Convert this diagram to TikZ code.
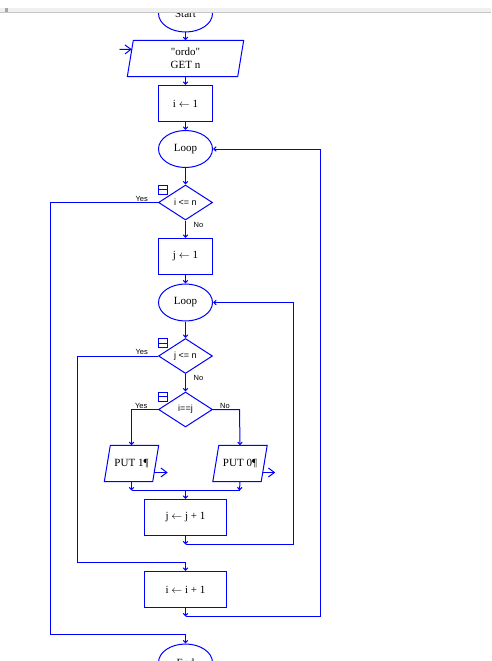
\documentclass[tikz,border=0pt]{standalone}
\usepackage{fontspec}
\setmainfont{Liberation Serif}
\newfontfamily\sansfam{Liberation Sans}
\newfontfamily\plainserif{Liberation Serif}[Ligatures=TeXOff]
\usetikzlibrary{shapes.geometric,arrows.meta,calc}
\definecolor{lineblue}{RGB}{0,0,255}

\begin{document}
\begin{tikzpicture}[x=1pt,y=-1pt,
  flow/.style={draw=lineblue,line width=1pt},
  arr/.style={flow,-{Straight Barb[length=2.5pt,width=4.5pt]}},
  bigarr/.style={flow,-{Straight Barb[length=6pt,width=9pt]}},
  txt/.style={font=\fontsize{11}{13}\selectfont},
  term/.style={ellipse,draw=lineblue,line width=1pt,minimum width=54pt,minimum height=37pt,inner sep=0pt,txt},
  proc/.style={rectangle,draw=lineblue,line width=1pt,minimum height=36pt,inner sep=0pt,txt},
  io/.style={rectangle,minimum height=36pt,inner sep=0pt,align=center,txt},
  cond/.style={diamond,draw=lineblue,line width=1pt,minimum width=54pt,minimum height=35pt,inner sep=0pt,font=\sansfam\fontsize{9}{11}\selectfont},
  lbl/.style={font=\sansfam\fontsize{7.5}{9}\selectfont,inner sep=0.5pt},
  fold/.style={draw=lineblue,line width=0.8pt,minimum size=9pt,inner sep=0pt,anchor=north west,
    path picture={\draw[lineblue,line width=0.8pt] (path picture bounding box.west) -- (path picture bounding box.east);}}
]
\useasboundingbox (0,0) rectangle (491,661);

\begin{scope}[shift={(0.5,0.5)}]
% nodes
\node[term] (start) at (185,13) {\raisebox{-3pt}{Start}};
\node[io,minimum width=110pt] (in1) at (185,58) {\plainserif"ordo"\\GET n};
\node[proc,minimum width=54pt] (i1) at (185,103) {i $\leftarrow$ 1};
\node[term] (loop1) at (185,148.5) {Loop};
\node[cond] (d1) at (185,202) {i <= n};
\node[proc,minimum width=54pt] (j1) at (185,256) {j $\leftarrow$ 1};
\node[term] (loop2) at (185,302) {Loop};
\node[cond] (d2) at (185,355.5) {j <= n};
\node[cond] (d3) at (185,409) {i==j};
\node[io,minimum width=48pt] (put1) at (131,463) {PUT 1¶};
\node[io,minimum width=48pt] (put0) at (239.5,463) {PUT 0¶};
\node[proc,minimum width=82pt] (j2) at (185,517) {j $\leftarrow$ j + 1};
\node[proc,minimum width=82pt] (i2) at (185,589) {i $\leftarrow$ i + 1};
\node[term] (end) at (185,662) {End};

% slanted outlines of the input/output boxes
\foreach \n in {in1,put1,put0}{
  \draw[flow] ($(\n.south west)+(-3,0)$) -- ($(\n.south east)+(-3,0)$)
    -- ($(\n.north east)+(3,0)$) -- ($(\n.north west)+(3,0)$) -- cycle;
}

% collapse markers on the decisions
\foreach \n in {d1,d2,d3}{
  \node[fold] at (\n.west |- \n.north) {};
}

% junction points
\coordinate (c1) at (50,202);
\coordinate (c2) at (50,634);
\coordinate (c3) at (185,634);
\coordinate (c4) at (77,355.5);
\coordinate (c5) at (77,562);
\coordinate (c6) at (185,562);
\coordinate (c7) at (131,409);
\coordinate (c8) at (239,409);
\coordinate (m1) at (131,490);
\coordinate (m0) at (239,490);
\coordinate (m) at (185,490);
\coordinate (r1) at (185,544);
\coordinate (r2) at (293,544);
\coordinate (r3) at (293,302);
\coordinate (s1) at (185,616);
\coordinate (s2) at (320,616);
\coordinate (s3) at (320,148.5);
\coordinate (inA) at (119,49);

% connectors
\draw[arr] (start) -- (in1);
\draw[arr] (in1) -- (i1);
\draw[arr] (i1) -- (loop1);
\draw[arr] (loop1) -- (d1);
\draw[arr] (d1.west) -- (c1) -- (c2) -- (c3) -- (end.north);
\draw[arr] (d1.south) -- (j1);
\draw[arr] (j1) -- (loop2);
\draw[arr] (loop2) -- (d2);
\draw[arr] (d2.west) -- (c4) -- (c5) -- (c6) -- (i2.north);
\draw[arr] (d2.south) -- (d3.north);
\draw[arr] (d3.west) -- (c7) -- (put1.north);
\draw[arr] (d3.east) -- (c8) -- (put0.north);
\draw[arr] (put1.south) -- (m1);
\draw[arr] (put0.south) -- (m0);
\draw[flow] (m1) -- (m0);
\draw[arr] (m) -- (j2.north);
\draw[arr] (j2.south) -- (r1);
\draw[arr] (r1) -- (r2) -- (r3) -- (loop2.east);
\draw[arr] (i2.south) -- (s1);
\draw[arr] (s1) -- (s2) -- (s3) -- (loop1.east);

% input and output markers
\draw[bigarr] (inA) -- ($(in1.north west)+(1.5,9)$);
\draw[bigarr] ($(put1.east)+(-1.5,9)$) -- ($(put1.east)+(12,9)$);
\draw[bigarr] ($(put0.east)+(-1.5,9)$) -- ($(put0.east)+(11,9)$);

% branch labels
\node[lbl,anchor=south east] at (148,202) {Yes};
\node[lbl,anchor=north west] at (192.5,221) {No};
\node[lbl,anchor=south east] at (148,355) {Yes};
\node[lbl,anchor=north west] at (192.5,374) {No};
\node[lbl,anchor=south east] at (147.5,408.5) {Yes};
\node[lbl,anchor=south west] at (219,408.5) {No};
\end{scope}

% window strip along the top edge
\fill[white] (0,0) rectangle (491,8);
\fill[gray!12] (0,8) rectangle (491,12);
\draw[gray!45,line width=0.8pt] (0,12) -- (491,12);
\fill[gray!70] (5,8) rectangle (7.5,12);
\end{tikzpicture}
\end{document}
